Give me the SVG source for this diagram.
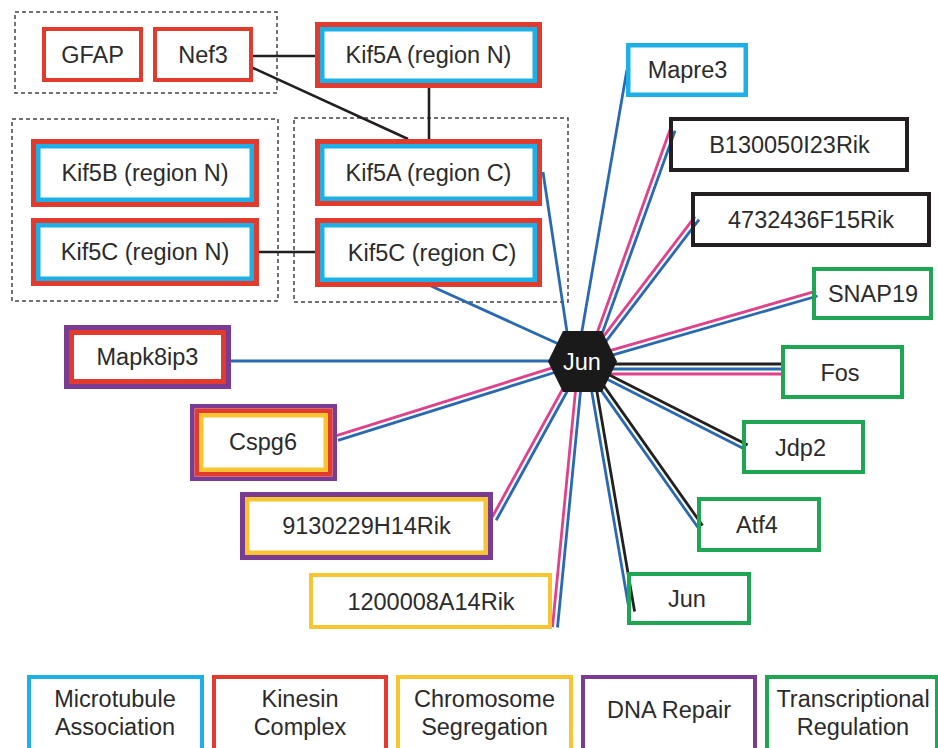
<svg xmlns="http://www.w3.org/2000/svg" width="938" height="748" viewBox="0 0 938 748">
  <style>
    text { font-family: "Liberation Sans", Arial, Helvetica, sans-serif; font-size: 23.5px; fill: #2b2b2b; text-anchor: middle; }
    .hubtxt { fill: #ffffff; }
    .grp { fill: none; stroke: #444; stroke-width: 1.5; stroke-dasharray: 4 3; }
    .bg { fill: #ffffff; }
    .ring { fill: none; }
    .red { stroke: #e23b2e; }
    .cyan { stroke: #1cb0e6; }
    .yel { stroke: #f6c530; }
    .pur { stroke: #7a3b93; }
    .grn { stroke: #1fa652; }
    .blk { stroke: #231f20; }
    .w5 { stroke-width: 5; }
    .w45 { stroke-width: 4.5; }
    .w4 { stroke-width: 4; }
    .e-blk { stroke: #231f20; stroke-width: 2.6; fill: none; }
    .e-blu { stroke: #2a69b0; stroke-width: 2.8; fill: none; }
    .e-pnk { stroke: #e0418a; stroke-width: 2.8; fill: none; }
    .e-dk { stroke: #231f20; stroke-width: 2.8; fill: none; }
  </style>

  <!-- dashed grouping frames -->
  <rect class="grp" x="15" y="12" width="262" height="81"/>
  <rect class="grp" x="12" y="119" width="266" height="182"/>
  <rect class="grp" x="294" y="118" width="274" height="184"/>

  <!-- connectors -->
  <g id="connectors">
    <!-- kinesin cluster links -->
    <line class="e-blk" x1="252" y1="56" x2="316" y2="56"/>
    <line class="e-blk" x1="252" y1="67.5" x2="408" y2="139"/>
    <line class="e-blk" x1="429" y1="87" x2="429" y2="140"/>
    <line class="e-blk" x1="258" y1="252" x2="316" y2="252"/>

    <!-- single blue links to the hub -->
    <line class="e-blu" x1="543" y1="172" x2="568.5" y2="342"/>
    <line class="e-blu" x1="431" y1="286" x2="563" y2="346"/>
    <line class="e-blu" x1="626.9" y1="70" x2="580.6" y2="339"/>
    <line class="e-blu" x1="230" y1="361" x2="556" y2="361"/>

    <!-- Cspg6 -->
    <line class="e-pnk" x1="336.5" y1="435.6" x2="557.8" y2="366.2"/>
    <line class="e-blu" x1="338" y1="440.4" x2="559.3" y2="371"/>
    <!-- 9130229H14Rik -->
    <line class="e-pnk" x1="491.8" y1="517.8" x2="566.7" y2="381.8"/>
    <line class="e-blu" x1="496.2" y1="520.2" x2="571.1" y2="384.2"/>
    <!-- 1200008A14Rik -->
    <line class="e-pnk" x1="552.5" y1="627" x2="576.3" y2="382.7"/>
    <line class="e-blu" x1="557.5" y1="627.5" x2="581.3" y2="383.3"/>
    <!-- B130050I23Rik -->
    <line class="e-pnk" x1="670.2" y1="129.2" x2="595" y2="338.7"/>
    <line class="e-blu" x1="675" y1="130.8" x2="599.7" y2="340.3"/>
    <!-- 4732436F15Rik -->
    <line class="e-pnk" x1="695" y1="216.6" x2="600.1" y2="340.9"/>
    <line class="e-blu" x1="699" y1="219.6" x2="604.1" y2="343.9"/>
    <!-- SNAP19 -->
    <line class="e-pnk" x1="816.1" y1="291.2" x2="605.6" y2="351.8"/>
    <line class="e-blu" x1="817.5" y1="296" x2="607" y2="356.6"/>
    <!-- Fos -->
    <line class="e-dk" x1="610" y1="364" x2="783" y2="364"/>
    <line class="e-blu" x1="610" y1="369" x2="783" y2="369"/>
    <line class="e-pnk" x1="608" y1="374" x2="783" y2="374"/>
    <!-- Jdp2 -->
    <line class="e-dk" x1="747.6" y1="445.1" x2="602" y2="371.2"/>
    <line class="e-blu" x1="745.4" y1="449.5" x2="599.8" y2="375.6"/>
    <!-- Atf4 -->
    <line class="e-dk" x1="702.5" y1="525.5" x2="598.4" y2="378.1"/>
    <line class="e-blu" x1="698.5" y1="528.3" x2="594.4" y2="380.9"/>
    <!-- Jun (target) -->
    <line class="e-dk" x1="634.6" y1="611.6" x2="595.3" y2="382.1"/>
    <line class="e-blu" x1="629.6" y1="612.4" x2="590.3" y2="382.9"/>
  </g>

  <!-- hub -->
  <g id="hub-jun">
    <polygon points="563,331 602,331 617,361.5 602,392 563,392 548,361.5" fill="#1a1a1a"/>
    <text class="hubtxt" x="582" y="370">Jun</text>
  </g>

  <!-- kinesin cluster -->
  <g id="node-gfap">
    <rect class="bg ring red w4" x="44" y="29" width="97" height="51"/>
    <text x="92.5" y="63">GFAP</text>
  </g>
  <g id="node-nef3">
    <rect class="bg ring red w4" x="155" y="29" width="96" height="51"/>
    <text x="203" y="63">Nef3</text>
  </g>
  <g id="node-kif5a-n">
    <rect class="bg ring red w5" x="317.5" y="24.5" width="222" height="61"/>
    <rect class="ring cyan w45" x="322.25" y="29.25" width="212.5" height="51.5"/>
    <text x="428.5" y="63">Kif5A (region N)</text>
  </g>
  <g id="node-kif5a-c">
    <rect class="bg ring red w5" x="317.5" y="141.5" width="222" height="62"/>
    <rect class="ring cyan w45" x="322.25" y="146.25" width="212.5" height="52.5"/>
    <text x="428.5" y="181">Kif5A (region C)</text>
  </g>
  <g id="node-kif5c-c">
    <rect class="bg ring red w5" x="317.5" y="220.5" width="222" height="64"/>
    <rect class="ring cyan w45" x="322.25" y="225.25" width="212.5" height="54.5"/>
    <text x="432" y="261">Kif5C (region C)</text>
  </g>
  <g id="node-kif5b-n">
    <rect class="bg ring red w5" x="33.5" y="141.5" width="223" height="63"/>
    <rect class="ring cyan w45" x="38.25" y="146.25" width="213.5" height="53.5"/>
    <text x="145" y="181">Kif5B (region N)</text>
  </g>
  <g id="node-kif5c-n">
    <rect class="bg ring red w5" x="33.5" y="220.5" width="223" height="63"/>
    <rect class="ring cyan w45" x="38.25" y="225.25" width="213.5" height="53.5"/>
    <text x="145" y="260">Kif5C (region N)</text>
  </g>

  <!-- left side partners -->
  <g id="node-mapk8ip3">
    <rect class="bg ring pur w5" x="66.5" y="327.5" width="162" height="59"/>
    <rect class="ring red w5" x="71.5" y="332.5" width="152" height="49"/>
    <text x="147.5" y="365">Mapk8ip3</text>
  </g>
  <g id="node-cspg6">
    <rect class="bg ring pur w45" x="192.25" y="406.25" width="142.5" height="72.5"/>
    <rect class="ring red w45" x="196.75" y="410.75" width="133.5" height="63.5"/>
    <rect class="ring yel w45" x="201.25" y="415.25" width="124.5" height="54.5"/>
    <text x="263" y="450">Cspg6</text>
  </g>
  <g id="node-9130229h14rik">
    <rect class="bg ring pur w5" x="242.5" y="494.5" width="248" height="63"/>
    <rect class="ring yel w45" x="247.25" y="499.25" width="238.5" height="53.5"/>
    <text x="366.5" y="534">9130229H14Rik</text>
  </g>
  <g id="node-1200008a14rik">
    <rect class="bg ring yel w4" x="311" y="575" width="239" height="52"/>
    <text x="431" y="610">1200008A14Rik</text>
  </g>

  <!-- right side partners -->
  <g id="node-mapre3">
    <rect class="bg ring cyan w45" x="628.25" y="45.25" width="117.5" height="49.5"/>
    <text x="687.5" y="77.5">Mapre3</text>
  </g>
  <g id="node-b130050i23rik">
    <rect class="bg ring blk w4" x="671" y="119" width="236" height="51"/>
    <text x="789.5" y="152.5">B130050I23Rik</text>
  </g>
  <g id="node-4732436f15rik">
    <rect class="bg ring blk w4" x="693" y="194" width="236" height="51"/>
    <text x="811" y="227.5">4732436F15Rik</text>
  </g>
  <g id="node-snap19">
    <rect class="bg ring grn w4" x="814" y="269" width="117" height="49"/>
    <text x="873" y="302">SNAP19</text>
  </g>
  <g id="node-fos">
    <rect class="bg ring grn w4" x="783" y="347" width="119" height="50"/>
    <text x="840" y="380.5">Fos</text>
  </g>
  <g id="node-jdp2">
    <rect class="bg ring grn w4" x="744" y="422" width="119" height="50"/>
    <text x="800.5" y="455.5">Jdp2</text>
  </g>
  <g id="node-atf4">
    <rect class="bg ring grn w4" x="699" y="499" width="120" height="51"/>
    <text x="757" y="533">Atf4</text>
  </g>
  <g id="node-jun-target">
    <rect class="bg ring grn w4" x="629" y="574" width="120" height="49"/>
    <text x="687" y="607">Jun</text>
  </g>

  <!-- legend -->
  <g id="legend">
    <g id="legend-microtubule">
      <rect class="bg ring cyan w4" x="29" y="677" width="173" height="90"/>
      <text x="115" y="707">Microtubule</text>
      <text x="115" y="735">Association</text>
    </g>
    <g id="legend-kinesin">
      <rect class="bg ring red w4" x="214" y="677" width="172" height="90"/>
      <text x="300" y="707">Kinesin</text>
      <text x="300" y="735">Complex</text>
    </g>
    <g id="legend-chromosome">
      <rect class="bg ring yel w4" x="398" y="677" width="173" height="90"/>
      <text x="484.5" y="707">Chromosome</text>
      <text x="484.5" y="735">Segregation</text>
    </g>
    <g id="legend-dna">
      <rect class="bg ring pur w4" x="583" y="677" width="172" height="90"/>
      <text x="669" y="718">DNA Repair</text>
    </g>
    <g id="legend-transcription">
      <rect class="bg ring grn w4" x="767" y="677" width="170" height="90"/>
      <text x="853" y="707">Transcriptional</text>
      <text x="853" y="735">Regulation</text>
    </g>
  </g>
</svg>
